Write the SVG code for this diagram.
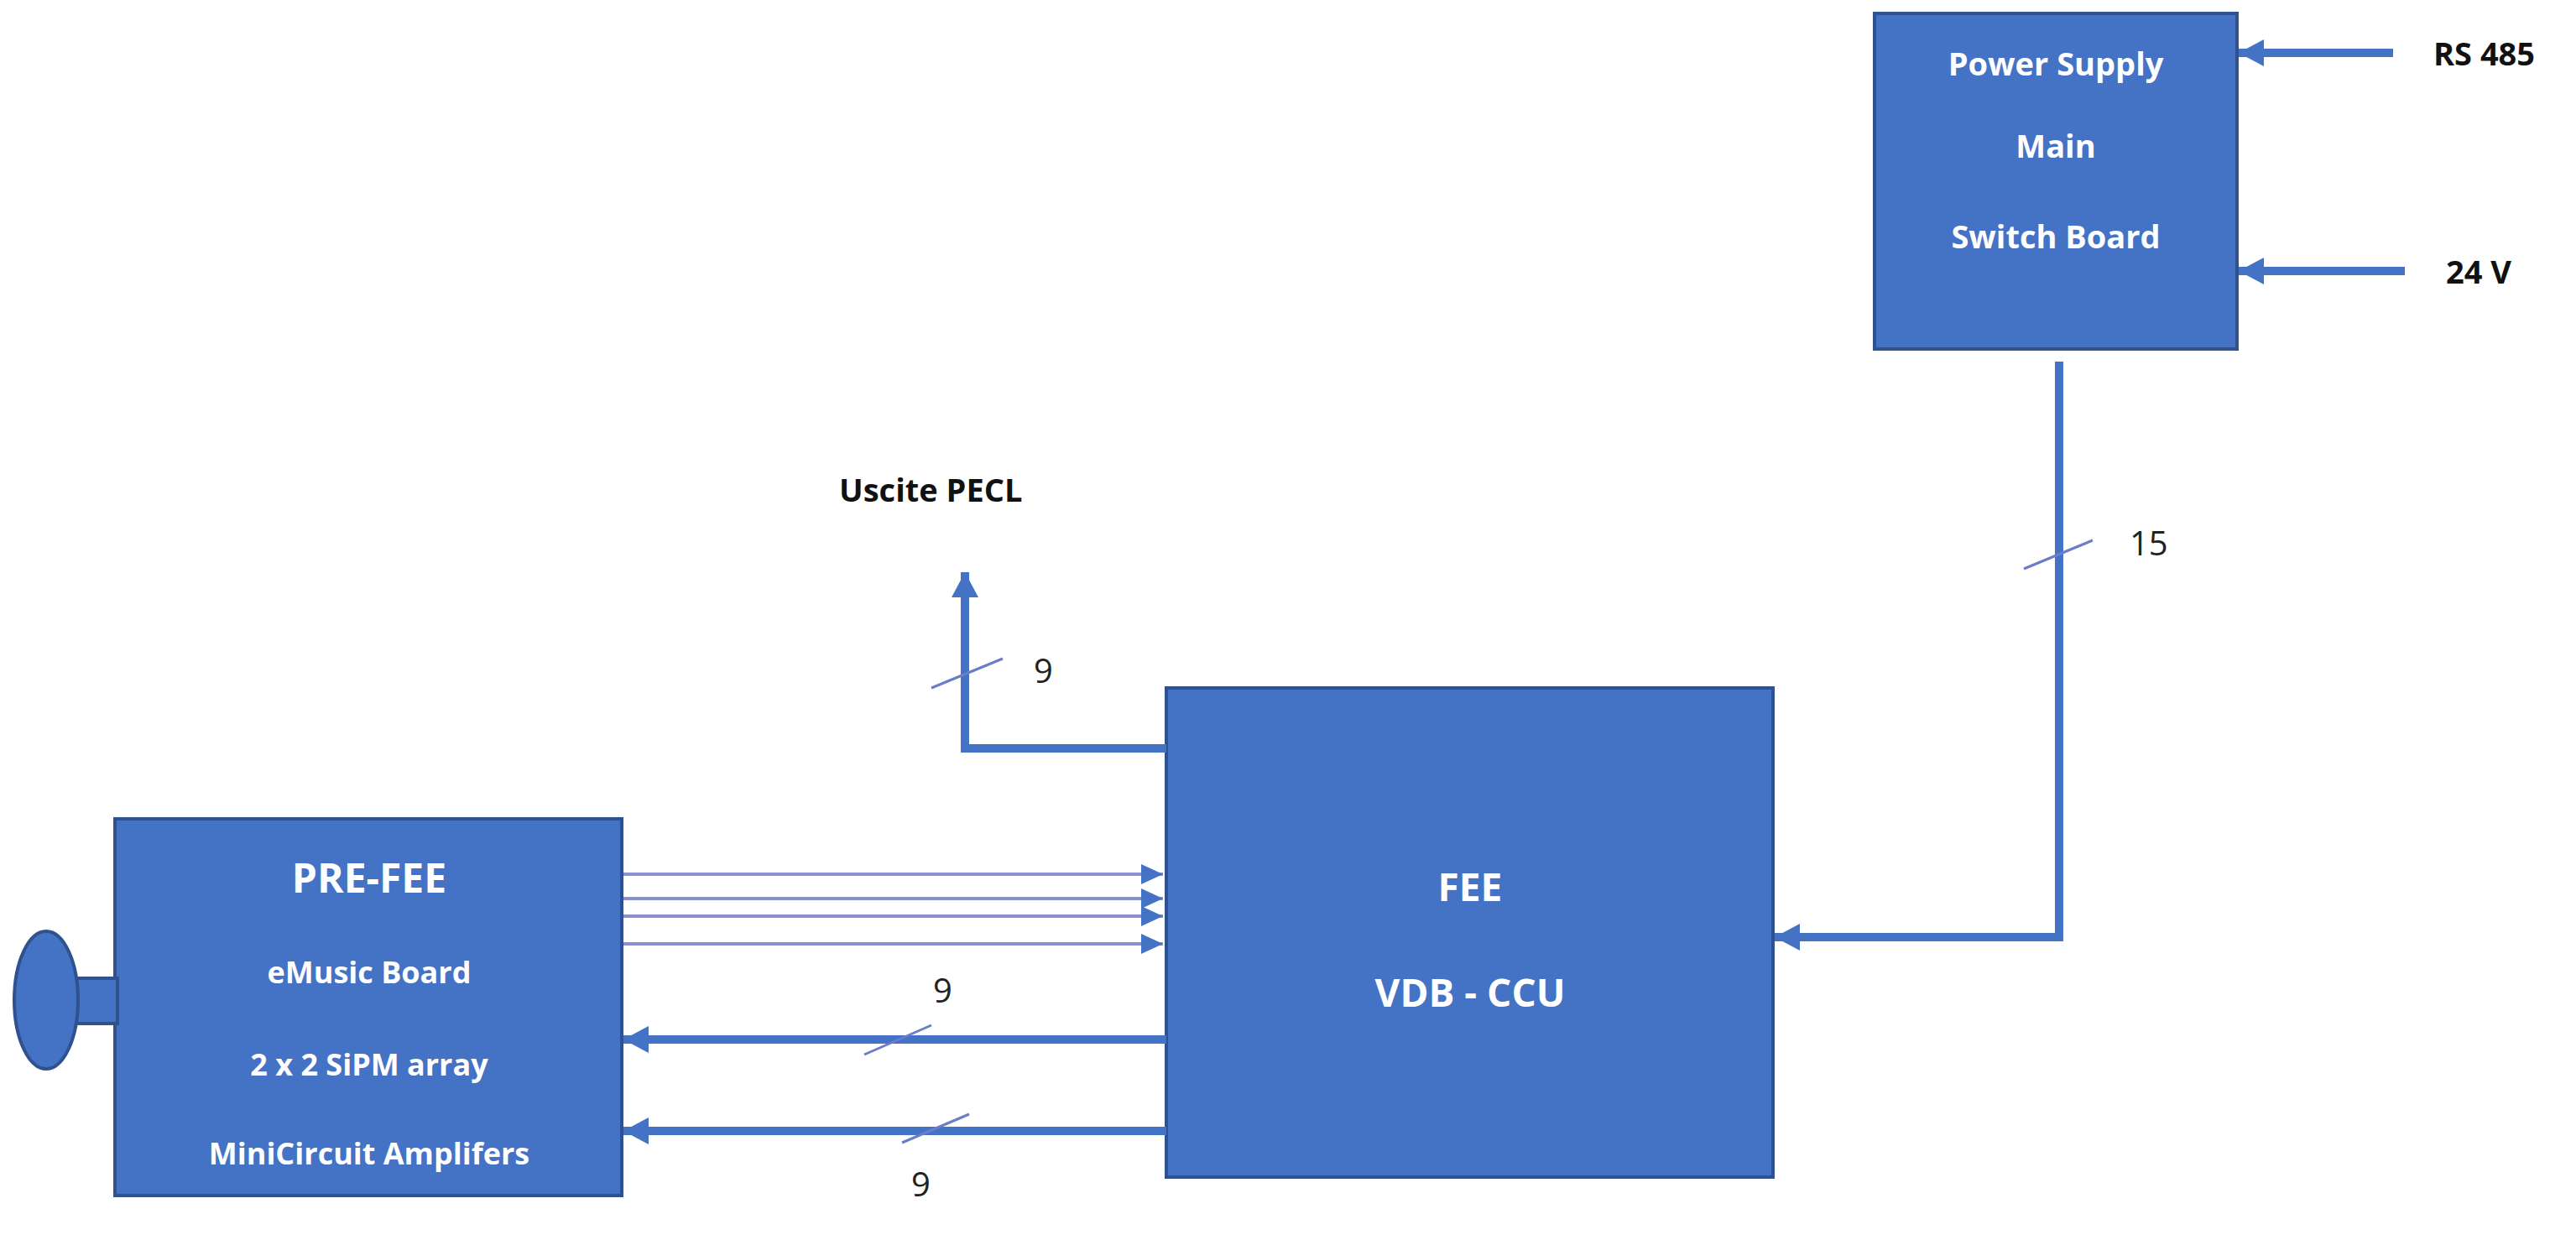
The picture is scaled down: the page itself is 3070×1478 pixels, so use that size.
<svg xmlns="http://www.w3.org/2000/svg" width="3070" height="1478" viewBox="0 0 3070 1478">
<style>
.box{fill:#4472c4;stroke:#2f528f;stroke-width:4}
.wt{fill:#fff;font-family:"Open Sans","Liberation Sans",sans-serif;font-weight:bold;text-anchor:middle}
.bt{fill:#111;font-family:"Open Sans","Liberation Sans",sans-serif;font-weight:bold}
.nt{fill:#222;font-family:"Open Sans","Liberation Sans",sans-serif;font-size:40px}
.thick{stroke:#4472c4;stroke-width:10;fill:none}
.thin{stroke:#8a8fd4;stroke-width:4;fill:none}
.slash{stroke:#6b7cc8;stroke-width:3}
</style>
<defs>
<marker id="ah" markerUnits="userSpaceOnUse" markerWidth="40" markerHeight="40" refX="30" refY="20" orient="auto"><path d="M0,4 L30,20 L0,36 Z" fill="#4472c4"/></marker>
<marker id="ahs" markerUnits="userSpaceOnUse" markerWidth="30" markerHeight="30" refX="26" refY="15" orient="auto"><path d="M0,3 L26,15 L0,27 Z" fill="#4472c4"/></marker>
</defs>
<g id="psu"><rect class="box" x="2234" y="16" width="432" height="400"/>
<text class="wt" x="2450" y="90" font-size="38">Power Supply</text>
<text class="wt" x="2450" y="188" font-size="38">Main</text>
<text class="wt" x="2450" y="296" font-size="38">Switch Board</text></g>
<g id="fee"><rect class="box" x="1390" y="820" width="723" height="583"/>
<text class="wt" x="1752" y="1074" font-size="46">FEE</text>
<text class="wt" x="1752" y="1200" font-size="46">VDB - CCU</text></g>
<g id="prefee"><rect class="box" x="137" y="976" width="604" height="449"/>
<text class="wt" x="440" y="1064" font-size="48">PRE-FEE</text>
<text class="wt" x="440" y="1172" font-size="36">eMusic Board</text>
<text class="wt" x="440" y="1282" font-size="36">2 x 2 SiPM array</text>
<text class="wt" x="440" y="1388" font-size="36">MiniCircuit Amplifers</text></g>
<g id="sensor"><rect class="box" x="88" y="1166" width="52" height="54"/><ellipse class="box" cx="55" cy="1192" rx="38" ry="82"/></g>
<g id="labels">
<text class="bt" x="2900" y="78" font-size="38">RS 485</text>
<text class="bt" x="2915" y="338" font-size="38">24 V</text>
<text class="bt" x="1000" y="598" font-size="38">Uscite PECL</text>
<text class="nt" x="2538" y="662">15</text>
<text class="nt" x="1232" y="814">9</text>
<text class="nt" x="1112" y="1195">9</text>
<text class="nt" x="1086" y="1426">9</text></g>
<g id="connectors">
<line class="thick" x1="2852" y1="63" x2="2668" y2="63" marker-end="url(#ah)"/>
<line class="thick" x1="2866" y1="323" x2="2668" y2="323" marker-end="url(#ah)"/>
<polyline class="thick" points="2454,431 2454,1117 2115,1117" marker-end="url(#ah)"/>
<line class="slash" x1="2412" y1="678" x2="2494" y2="644"/>
<polyline class="thick" points="1390,892 1150,892 1150,682" marker-end="url(#ah)"/>
<line class="slash" x1="1110" y1="820" x2="1195" y2="785"/>
<line class="thin" x1="743" y1="1042" x2="1386" y2="1042" marker-end="url(#ahs)"/>
<line class="thin" x1="743" y1="1071" x2="1386" y2="1071" marker-end="url(#ahs)"/>
<line class="thin" x1="743" y1="1092" x2="1386" y2="1092" marker-end="url(#ahs)"/>
<line class="thin" x1="743" y1="1125" x2="1386" y2="1125" marker-end="url(#ahs)"/>
<line class="thick" x1="1390" y1="1239" x2="743" y2="1239" marker-end="url(#ah)"/>
<line class="thick" x1="1390" y1="1348" x2="743" y2="1348" marker-end="url(#ah)"/>
<line class="slash" x1="1030" y1="1257" x2="1110" y2="1222"/>
<line class="slash" x1="1075" y1="1362" x2="1155" y2="1328"/>
</g>
</svg>
